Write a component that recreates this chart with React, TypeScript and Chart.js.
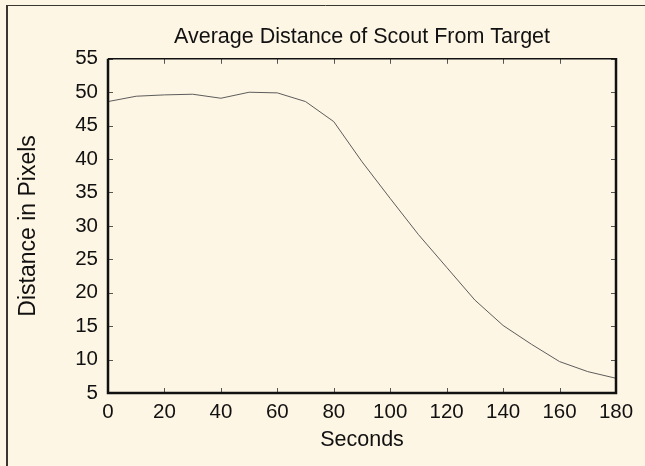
import React, { useEffect, useRef } from "react";
import { Chart, registerables } from "chart.js";

Chart.register(...registerables);

const seconds = [0, 10, 20, 30, 40, 50, 60, 70, 80, 90, 100, 110, 120, 130, 140, 150, 160, 170, 180];
const distance = [48.6, 49.4, 49.6, 49.7, 49.1, 50.0, 49.9, 48.6, 45.6, 39.6, 34.1, 28.7, 23.8, 18.9, 15.1, 12.3, 9.7, 8.2, 7.2];
const xTickValues = [0, 20, 40, 60, 80, 100, 120, 140, 160, 180];
const yTickValues = [5, 10, 15, 20, 25, 30, 35, 40, 45, 50, 55];

const titleText = "Average Distance of Scout From Target";
const xTitle = "Seconds";
const yTitle = "Distance in Pixels";

const BG = "#fef6e4";
const FONT = '"Liberation Sans", Arial, Helvetica, sans-serif';

const bgPlugin = {
  id: "bgPlugin",
  beforeDraw(chart: any) {
    const ctx = chart.ctx;
    ctx.save();
    ctx.fillStyle = BG;
    ctx.fillRect(0, 0, chart.width, chart.height);
    ctx.strokeStyle = "#3a3630";
    ctx.lineWidth = 2;
    ctx.beginPath();
    ctx.moveTo(7, 5);
    ctx.lineTo(7, chart.height);
    ctx.stroke();
    ctx.lineWidth = 1;
    ctx.beginPath();
    ctx.moveTo(6, 5.5);
    ctx.lineTo(chart.width, 5.5);
    ctx.stroke();
    ctx.restore();
  },
};

const framePlugin = {
  id: "framePlugin",
  afterDatasetsDraw(chart: any) {
    const ctx = chart.ctx;
    const { left, right, top, bottom } = chart.chartArea;
    const xs = chart.scales.x;
    const ys = chart.scales.y;
    ctx.save();
    ctx.strokeStyle = "#555";
    ctx.lineWidth = 1;
    const tl = 5;
    ctx.beginPath();
    yTickValues.forEach((v) => {
      const py = Math.round(ys.getPixelForValue(v)) + 0.5;
      ctx.moveTo(left, py);
      ctx.lineTo(left + tl, py);
      ctx.moveTo(right, py);
      ctx.lineTo(right - tl, py);
    });
    xTickValues.forEach((v) => {
      const px = Math.round(xs.getPixelForValue(v)) + 0.5;
      ctx.moveTo(px, bottom);
      ctx.lineTo(px, bottom - tl);
      ctx.moveTo(px, top);
      ctx.lineTo(px, top + tl);
    });
    ctx.stroke();
    ctx.strokeStyle = "#111";
    ctx.lineWidth = 1.5;
    ctx.beginPath();
    ctx.moveTo(left, top);
    ctx.lineTo(right, top);
    ctx.stroke();
    ctx.lineWidth = 2.5;
    ctx.beginPath();
    ctx.moveTo(left, top);
    ctx.lineTo(left, bottom);
    ctx.lineTo(right, bottom);
    ctx.lineTo(right, top - 0.75);
    ctx.stroke();
    ctx.restore();
  },
};

export default function App() {
  const ref = useRef<HTMLCanvasElement | null>(null);
  useEffect(() => {
    if (!ref.current) return;
    Chart.defaults.font.family = FONT;
    const chart = new Chart(ref.current, {
      type: "line",
      data: {
        datasets: [
          {
            data: seconds.map((s, i) => ({ x: s, y: distance[i] })),
            borderColor: "#5c5c5c",
            borderWidth: 1,
            pointRadius: 0,
            tension: 0,
            fill: false,
          },
        ],
      },
      options: {
        responsive: false,
        animation: false,
        layout: { padding: { left: 0, right: 29, top: 0, bottom: 0 } },
        plugins: {
          legend: { display: false },
          tooltip: { enabled: false },
          title: {
            display: true,
            fullSize: false,
            text: titleText,
            color: "#111",
            font: { family: FONT, size: 21.5, weight: "normal" },
            padding: { top: 24, bottom: 9 },
          },
        },
        scales: {
          x: {
            type: "linear",
            min: 0,
            max: 180,
            afterBuildTicks: (s: any) => {
              s.ticks = xTickValues.map((v) => ({ value: v }));
            },
            afterFit: (s: any) => {
              s.height = 73;
            },
            grid: { display: false, drawTicks: false },
            border: { display: false },
            ticks: { color: "#111", font: { family: FONT, size: 20.5 }, padding: 7, maxRotation: 0 },
            title: {
              display: true,
              text: xTitle,
              color: "#111",
              font: { family: FONT, size: 21.5 },
              padding: { top: 0, bottom: 13 },
            },
          },
          y: {
            type: "linear",
            min: 5,
            max: 55,
            afterBuildTicks: (s: any) => {
              s.ticks = yTickValues.map((v) => ({ value: v }));
            },
            afterFit: (s: any) => {
              s.width = 108;
            },
            grid: { display: false, drawTicks: false },
            border: { display: false },
            ticks: { color: "#111", font: { family: FONT, size: 20.5 }, padding: 10 },
            title: {
              display: true,
              text: yTitle,
              color: "#111",
              font: { family: FONT, size: 23 },
              padding: { top: 15, bottom: 0 },
            },
          },
        },
      },
      plugins: [bgPlugin, framePlugin],
    });
    return () => chart.destroy();
  }, []);
  return (
    <div style={{ position: "absolute", left: 0, top: 0, width: 645, height: 466 }}>
      <canvas ref={ref} width={645} height={466} style={{ display: "block" }} />
    </div>
  );
}
